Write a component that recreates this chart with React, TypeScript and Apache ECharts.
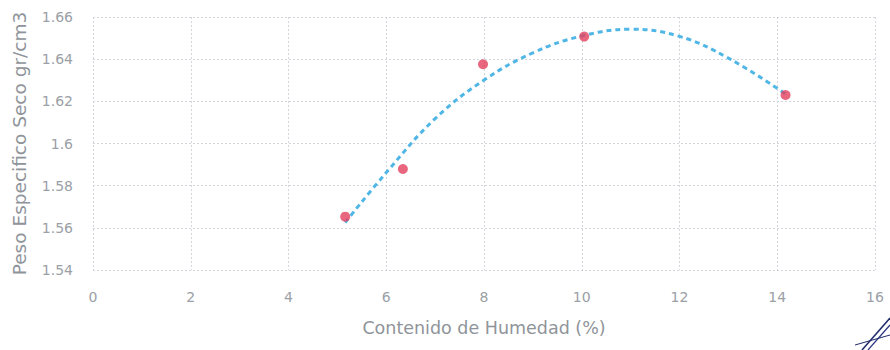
import React, { useEffect, useRef } from "react";
import * as echarts from "echarts";

const xTitle = "Contenido de Humedad (%)";
const yTitle = "Peso Especifico Seco gr/cm3";

const humedad = [5.16, 6.34, 7.98, 10.05, 14.17];
const pesoSeco = [1.5653, 1.5879, 1.6376, 1.6507, 1.623];

const trendX = [5.16, 6.0, 7.0, 8.0, 9.0, 10.0, 11.0, 12.0, 13.0, 14.17];
const trendY = [1.5625, 1.5862, 1.6118, 1.6301, 1.643, 1.651, 1.6542, 1.6508, 1.6405, 1.6235];

export default function App() {
  const ref = useRef<HTMLDivElement>(null);
  useEffect(() => {
    if (!ref.current) return;
    const chart = echarts.init(ref.current, null, { renderer: "svg" });
    const font = "'DejaVu Sans', sans-serif";
    const gridLine = { show: true, lineStyle: { color: "#d2d6dc", type: [2, 2] as any, width: 1 } };
    chart.setOption({
      animation: false,
      backgroundColor: "#ffffff",
      grid: { left: 93, right: 15, top: 17, bottom: 80, containLabel: false },
      xAxis: {
        type: "value",
        min: 0,
        max: 16,
        interval: 2,
        name: xTitle,
        nameLocation: "middle",
        nameGap: 49,
        nameTextStyle: { color: "#8f949a", fontSize: 17.5, fontFamily: font },
        axisLine: { show: false },
        axisTick: { show: false },
        axisLabel: { color: "#9aa0a6", fontSize: 14, fontFamily: font, margin: 20 },
        splitLine: gridLine,
      },
      yAxis: {
        type: "value",
        min: 1.54,
        max: 1.66,
        interval: 0.02,
        name: yTitle,
        nameLocation: "middle",
        nameGap: 64,
        nameTextStyle: { color: "#8f949a", fontSize: 18.5, fontFamily: font },
        axisLine: { show: false },
        axisTick: { show: false },
        axisLabel: {
          color: "#9aa0a6",
          fontSize: 14,
          fontFamily: font,
          margin: 20,
          formatter: (v: number) => String(parseFloat(v.toFixed(2))),
        },
        splitLine: gridLine,
      },
      series: [
        {
          type: "line",
          data: trendX.map((x, i) => [x, trendY[i]]),
          smooth: 0.4,
          showSymbol: false,
          lineStyle: { color: "#4fb6e6", width: 3, type: [5, 4] as any },
          silent: true,
          z: 2,
        },
        {
          type: "scatter",
          data: humedad.map((x, i) => [x, pesoSeco[i]]),
          symbolSize: 10,
          itemStyle: { color: "#e2405e" },
          z: 3,
        },
      ],
      graphic: [
        { type: "line", shape: { x1: 862, y1: 350, x2: 890, y2: 318 }, style: { stroke: "#1f2a6b", lineWidth: 1.5 } },
        { type: "line", shape: { x1: 868, y1: 350, x2: 890, y2: 325 }, style: { stroke: "#2a3580", lineWidth: 1.2 } },
        { type: "line", shape: { x1: 855, y1: 345, x2: 890, y2: 335 }, style: { stroke: "#1f2a6b", lineWidth: 1 } },
      ],
    });
    return () => chart.dispose();
  }, []);
  return <div ref={ref} style={{ position: "absolute", left: 0, top: 0, width: 890, height: 350 }} />;
}
